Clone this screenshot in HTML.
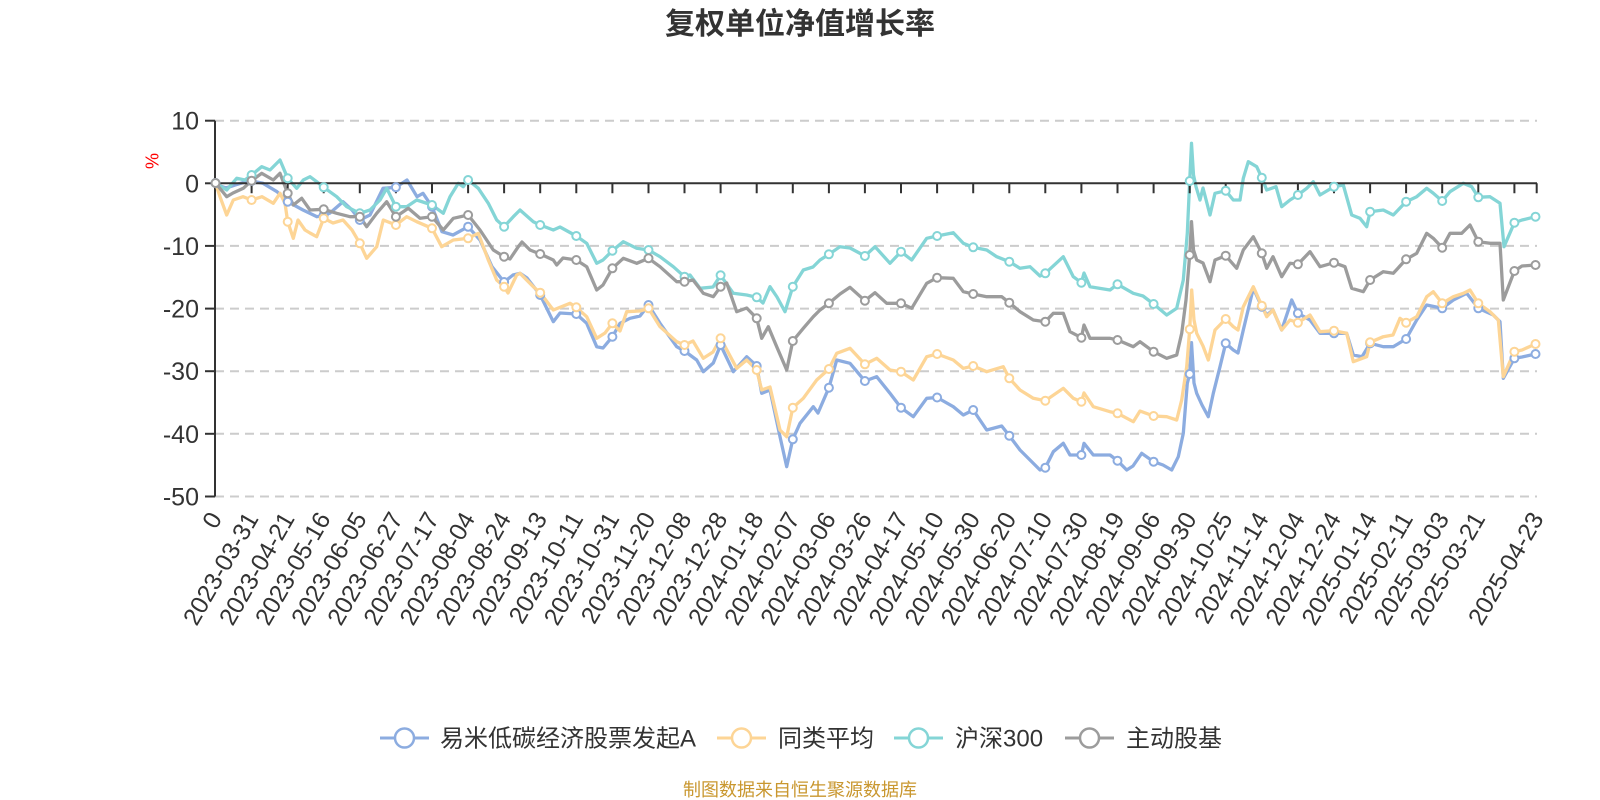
<!DOCTYPE html>
<html>
<head>
<meta charset="utf-8">
<style>
html,body{margin:0;padding:0;background:#fff;width:1600px;height:800px;overflow:hidden}
svg{display:block}
.ln{fill:none;stroke-width:3.3;stroke-linejoin:round;stroke-linecap:round}
.b{stroke:#8cace0}.o{stroke:#fdd596}.c{stroke:#84d5d6}.g{stroke:#9c9c9c}
circle.m{fill:#fff;stroke-width:2}
.grid{stroke:#cccccc;stroke-width:2;stroke-dasharray:9 6}
.yl{font-size:25px;fill:#333;text-anchor:end}
.xl{font-size:24.5px;fill:#333;text-anchor:end}
</style>
</head>
<body>
<svg width="1600" height="800" viewBox="0 0 1600 800" xmlns="http://www.w3.org/2000/svg" font-family="'Liberation Sans','Noto Sans CJK SC',sans-serif">
<rect width="1600" height="800" fill="#fff"/>
<text x="800" y="34" text-anchor="middle" font-size="30" font-weight="bold" fill="#333" font-family="'Liberation Sans','Noto Sans CJK SC',sans-serif">复权单位净值增长率</text>

<g>
<line class="grid" x1="215" y1="120.7" x2="1537" y2="120.7"/>
<line class="grid" x1="215" y1="245.9" x2="1537" y2="245.9"/>
<line class="grid" x1="215" y1="308.6" x2="1537" y2="308.6"/>
<line class="grid" x1="215" y1="371.2" x2="1537" y2="371.2"/>
<line class="grid" x1="215" y1="433.8" x2="1537" y2="433.8"/>
<line class="grid" x1="215" y1="496.5" x2="1537" y2="496.5"/>
</g>

<g stroke="#333" stroke-width="2">
<line x1="215" y1="120.7" x2="215" y2="496.5"/>
<line x1="205" y1="120.7" x2="215" y2="120.7"/>
<line x1="205" y1="183.3" x2="215" y2="183.3"/>
<line x1="205" y1="245.9" x2="215" y2="245.9"/>
<line x1="205" y1="308.6" x2="215" y2="308.6"/>
<line x1="205" y1="371.2" x2="215" y2="371.2"/>
<line x1="205" y1="433.8" x2="215" y2="433.8"/>
<line x1="205" y1="496.5" x2="215" y2="496.5"/>
</g>

<g>
<text class="yl" x="199" y="120.7" dy="0.36em">10</text>
<text class="yl" x="199" y="183.3" dy="0.36em">0</text>
<text class="yl" x="199" y="245.9" dy="0.36em">-10</text>
<text class="yl" x="199" y="308.6" dy="0.36em">-20</text>
<text class="yl" x="199" y="371.2" dy="0.36em">-30</text>
<text class="yl" x="199" y="433.8" dy="0.36em">-40</text>
<text class="yl" x="199" y="496.5" dy="0.36em">-50</text>
</g>
<text transform="translate(152,161) rotate(-90)" text-anchor="middle" dy="0.35em" font-size="18" fill="#ff0000">%</text>

<!-- series -->
<polyline class="ln b" points="215.5,183 220,186 226,188 235,185 245,182 251.6,181 263,183.3 277,191.7 287.7,201.7 303,210 317,216.7 323.7,215 330,213 343,201.7 352,210 359.8,220 370,215 383,188.3 395.9,187.3 407,180 417,196.7 423,193.3 432,206.7 442,231.7 453,235 468.1,226.7 480,240 492,266.7 504.1,282 513,275 520,273.3 527,278 540.2,295 553.3,321.7 560,313 576.3,314 586.7,323.3 596.7,346.7 603,348 612.4,336.7 620,323.3 630,318.3 640,316 648.5,305 660,323.3 676.7,346.7 684.5,351 696.7,360 703.3,371.7 713.3,363 720.6,345 733.3,371.7 746.7,356.7 756.7,366 761.7,393.3 770,390 780,436.7 786.7,466.7 792.8,439.3 800,423.3 813.3,406.7 818,413 828.9,387.7 836.7,360 850,363.3 864.9,381 876.7,376.7 890,393.3 901,407.7 913.3,416.7 926.7,398.3 937.1,397.5 953.3,406.7 963.3,415 973.2,410 986.7,430 1001.7,426 1009.3,435.7 1020,450 1030,460 1040,470 1045.3,467.7 1053.3,451.7 1063.3,443.3 1070,455 1081.4,455 1084,443.3 1093.3,455 1110,455 1117.5,460.7 1126.7,470 1133,466 1141.7,453.3 1153.6,461.7 1163,465 1171.7,470 1178.3,456.7 1183.3,433.3 1187.3,383.3 1189.7,374 1191.5,342.7 1194,383 1196.7,393.3 1202,405 1208.3,416.7 1213.3,393.3 1220,366.7 1225.7,343.3 1233.3,350 1238,353 1243.3,330 1253.3,288.3 1261.8,306.7 1266.7,315 1273,310 1281.7,330 1291.7,300 1297.9,313.3 1310,320 1320,333.3 1334,333.3 1346.7,333.3 1353.3,355 1362,356.7 1370.1,343.3 1383.3,346.7 1393.3,346.7 1406.1,339 1416.7,320 1426.7,305 1442.2,308.3 1453.3,300 1466.7,293.3 1478.3,308.3 1493.3,315 1500,321.7 1503.3,378.3 1514.4,358.3 1522,357 1535.5,354"/>
<polyline class="ln o" points="215.5,183 220,196.7 226.7,215 233.3,200 243,196.7 251.6,200 262,196.7 273.3,203.3 280,193.3 285,203.3 287.7,221.7 293.3,238.3 298,220 305,230 310,233 316.7,236.7 323.7,218.3 333,223 343,220 352,230 359.8,243.3 366.7,258.3 376.7,246.7 383.3,220 395.9,225 406.7,216.7 416.7,221.7 432,228.3 441.7,246.7 453.3,240 468.1,238.3 478.3,233.3 488.3,260 496.7,280 504.1,286.7 508,293 516.7,275 520,273.3 533.3,286.7 540.2,292.7 553.3,310 570,303.3 576.3,307.3 586.7,316.7 596.7,338.3 605,333 612.4,323.3 620,331 626.7,311.7 640,311 648.5,308.3 660,326.7 676.7,341.7 684.5,345 693,341 703.3,358.3 713,352 720.6,338.3 736.7,368.3 746.7,360 756.7,370 761.7,390 770,387 780,430 786.7,436.7 792.8,407.7 803.3,398.3 816.7,380 828.9,369 836.7,353.3 850,348.3 864.9,364.3 876.7,358.3 890,370 901,371.7 913.3,380 926.7,356.7 937.1,354 953.3,360 963.3,368.3 973.2,366 986.7,371.7 1003.3,366.7 1009.3,378.3 1020,390 1033.3,398.3 1045.3,400.7 1063.3,388.3 1073.3,398.3 1081.4,401.7 1084,393 1093.3,406.7 1110,411.7 1117.5,413.3 1133.3,421.7 1140,411 1153.6,416 1166.7,416.7 1176.7,420 1181.7,400 1186.7,366.7 1189.7,329.3 1191.7,290 1194,320 1196.7,333.3 1203,346 1208.3,360 1215,330 1225.7,319 1233.3,326.7 1238,330 1243.3,306.7 1253.3,286.7 1261.8,305.7 1266.7,316.7 1273,310 1281.7,330 1290,320 1297.9,322.7 1310,315 1320,331.7 1334,330.7 1346.7,333.3 1353.3,361.7 1366.7,356.7 1370.1,342.3 1383.3,336.7 1393,335 1400,318.3 1406.1,322.7 1416.7,316.7 1426.7,296.7 1433.3,291.7 1442.2,303.3 1453.3,296.7 1463.3,293.3 1470,290 1478.3,303.3 1490,311.7 1498.3,320 1503.3,376.7 1514.4,351.7 1522,350 1535.5,344"/>
<polyline class="ln c" points="215.5,183 226.7,190 236.7,178.3 245,180 251.6,175 261.7,166.7 270,170 280,160 287.7,178.3 296.7,188.3 303.3,180 310,176.7 316.7,181.7 323.7,187.3 336.7,196.7 346.7,206.7 359.8,213.3 370,210 380,200 386.7,188.3 395.9,206.7 406.7,206.7 416.7,200 432,205 443.3,213.3 450,196.7 458.3,183.3 463.3,186.7 468.1,180 478.3,188.3 488.3,203.3 496.7,220 504.1,226.7 513.3,216.7 520,210 533.3,221.7 540.2,225 553.3,230 560,227 576.3,236 586.7,243.3 596.7,263.3 603,260 612.4,250.7 623.3,241.7 636.7,248.3 648.5,250 660,256.7 673.3,266.7 684.5,276.7 690,275 700,288.3 713,287 720.6,275.3 733.3,293.3 746.7,295 756.7,297.3 763,303 770,286.7 777,297 785,311.7 788,302 792.8,286.7 803.3,270 813,267 820,260 828.9,254.3 840,246.7 850,248 864.9,256 875,246.7 890,263.3 901,251.7 911.7,260 926.7,238.3 937.1,236 953.3,232.7 963.3,243.3 973.2,247.3 986.7,250 996.7,256.7 1009.3,261.7 1020,268.3 1030,266.7 1040,276 1045.3,273.3 1063.3,256.7 1073.3,276.7 1081.4,282.7 1084,273 1090,286.7 1110,290 1117.5,284.3 1133.3,293.3 1143,296 1153.6,304 1166.7,315 1176.7,308.3 1183.3,280 1187.3,233.3 1189.7,181 1191.5,143.3 1193.5,175 1196,186.7 1200,200 1203,188 1210,215 1215,193.3 1225.7,190.7 1233.3,200 1240,200 1243.3,178.3 1248.3,161.7 1256.7,166.7 1261.8,177.7 1266.7,190 1276,186.7 1281.7,206.7 1290,200 1297.9,195 1306.7,188.3 1313.3,181.7 1320,195 1334,186.7 1343.3,185 1351.7,215 1360,218.3 1366.7,226.7 1370.1,211.7 1383.3,210 1393.3,215 1406.1,201.7 1416.7,196.7 1426.7,188.3 1433,193 1442.2,201 1450,191.7 1463.3,183.3 1471.7,186.7 1478.3,197.3 1490,196.7 1500,203.3 1504,246.7 1514.4,222.7 1522,220 1535.5,216.7"/>
<polyline class="ln g" points="215.5,183 226.7,196.7 233,193 243.3,188.3 251.6,180.7 261.7,173.3 273.3,180 280,173.3 287.7,193.3 293.3,205 301.7,198.3 310,210 323.7,209.3 336.7,213.3 350,216.7 359.8,216.7 366.7,226.7 376.7,213.3 386.7,201.7 395.9,216.7 408.3,208.3 420,218.3 432,216.7 443.3,230 453.3,218.3 468.1,215 480,230 493.3,250 504.1,256.7 510,259 518.3,246.7 522,242 530,250 540.2,254 553.3,260 556.7,265 563,258 576.3,260 586.7,266.7 596.7,290 603,285 612.4,268.3 623.3,258.3 636.7,263.3 648.5,258.3 660,266.7 676.7,281.7 684.5,281.7 693,280 703.3,293.3 713.3,296.7 720.6,286.7 726.7,283 736.7,311.7 746.7,308 756.7,318.3 761.7,338.3 768.3,326.7 776.7,346.7 786.7,370 792.8,341 803.3,328.3 813.3,316.7 820,310 828.9,303.3 840,294 850,287.3 864.9,300.7 875,292.7 886.7,303.3 901,303.3 911.7,308.3 926.7,283.3 937.1,277.7 953.3,278.3 963.3,291.7 973.2,294 986.7,296.7 1001.7,296.7 1009.3,302.7 1020,311.7 1033.3,320 1045.3,321.7 1053.3,313.3 1063.3,313.3 1070,331.7 1081.4,337.7 1084,325 1090,338.3 1110,338.3 1117.5,340 1133.3,346.7 1140,341.7 1153.6,351.7 1166.7,358.3 1176.7,355 1181.7,333.3 1186,300 1189.7,255 1191.5,221.7 1193.5,250 1196.7,260 1203,263 1210,281.7 1215,260 1225.7,255.7 1236.7,268.3 1243.3,250 1253.3,236.7 1261.8,253.3 1266.7,268.3 1273,256.7 1281.7,276.7 1290,263.3 1297.9,264.3 1310,251.7 1320,266.7 1334,262.7 1345,266.7 1351.7,288.3 1363.3,291.7 1370.1,280 1383.3,271.7 1393.3,273.3 1406.1,259.3 1416.7,253.3 1426.7,233.3 1433.3,238.3 1442.2,247.7 1450,233.3 1461.7,233.3 1470,225 1478.3,241.7 1490,243.3 1500,243.3 1503.3,300 1514.4,271 1522,266 1535.5,265"/>

<!-- x axis -->
<g stroke="#333" stroke-width="2">
<line x1="215" y1="183.3" x2="1537" y2="183.3"/>
<path d="M251.6 183.3v10M287.7 183.3v10M323.7 183.3v10M359.8 183.3v10M395.9 183.3v10M432 183.3v10M468.1 183.3v10M504.1 183.3v10M540.2 183.3v10M576.3 183.3v10M612.4 183.3v10M648.5 183.3v10M684.5 183.3v10M720.6 183.3v10M756.7 183.3v10M792.8 183.3v10M828.9 183.3v10M864.9 183.3v10M901 183.3v10M937.1 183.3v10M973.2 183.3v10M1009.3 183.3v10M1045.3 183.3v10M1081.4 183.3v10M1117.5 183.3v10M1153.6 183.3v10M1189.7 183.3v10M1225.7 183.3v10M1261.8 183.3v10M1297.9 183.3v10M1334 183.3v10M1370.1 183.3v10M1406.1 183.3v10M1442.2 183.3v10M1478.3 183.3v10M1514.4 183.3v10M1536.7 183.3v10"/>
</g>

<!-- markers -->
<g class="b">
<circle class="m" r="4" cx="215.5" cy="183"/><circle class="m" r="4" cx="251.6" cy="181"/><circle class="m" r="4" cx="287.7" cy="201.7"/><circle class="m" r="4" cx="323.7" cy="215"/><circle class="m" r="4" cx="359.8" cy="220"/><circle class="m" r="4" cx="395.9" cy="187.3"/><circle class="m" r="4" cx="432" cy="206.7"/><circle class="m" r="4" cx="468.1" cy="226.7"/><circle class="m" r="4" cx="504.1" cy="282"/><circle class="m" r="4" cx="540.2" cy="295"/><circle class="m" r="4" cx="576.3" cy="314"/><circle class="m" r="4" cx="612.4" cy="336.7"/><circle class="m" r="4" cx="648.5" cy="305"/><circle class="m" r="4" cx="684.5" cy="351"/><circle class="m" r="4" cx="720.6" cy="345"/><circle class="m" r="4" cx="756.7" cy="366"/><circle class="m" r="4" cx="792.8" cy="439.3"/><circle class="m" r="4" cx="828.9" cy="387.7"/><circle class="m" r="4" cx="864.9" cy="381"/><circle class="m" r="4" cx="901" cy="407.7"/><circle class="m" r="4" cx="937.1" cy="397.5"/><circle class="m" r="4" cx="973.2" cy="410"/><circle class="m" r="4" cx="1009.3" cy="435.7"/><circle class="m" r="4" cx="1045.3" cy="467.7"/><circle class="m" r="4" cx="1081.4" cy="455"/><circle class="m" r="4" cx="1117.5" cy="460.7"/><circle class="m" r="4" cx="1153.6" cy="461.7"/><circle class="m" r="4" cx="1189.7" cy="374"/><circle class="m" r="4" cx="1225.7" cy="343.3"/><circle class="m" r="4" cx="1261.8" cy="306.7"/><circle class="m" r="4" cx="1297.9" cy="313.3"/><circle class="m" r="4" cx="1334" cy="333.3"/><circle class="m" r="4" cx="1370.1" cy="343.3"/><circle class="m" r="4" cx="1406.1" cy="339"/><circle class="m" r="4" cx="1442.2" cy="308.3"/><circle class="m" r="4" cx="1478.3" cy="308.3"/><circle class="m" r="4" cx="1514.4" cy="358.3"/><circle class="m" r="4" cx="1535.5" cy="354"/>
</g>
<g class="o">
<circle class="m" r="4" cx="251.6" cy="200"/><circle class="m" r="4" cx="287.7" cy="221.7"/><circle class="m" r="4" cx="323.7" cy="218.3"/><circle class="m" r="4" cx="359.8" cy="243.3"/><circle class="m" r="4" cx="395.9" cy="225"/><circle class="m" r="4" cx="432" cy="228.3"/><circle class="m" r="4" cx="468.1" cy="238.3"/><circle class="m" r="4" cx="504.1" cy="286.7"/><circle class="m" r="4" cx="540.2" cy="292.7"/><circle class="m" r="4" cx="576.3" cy="307.3"/><circle class="m" r="4" cx="612.4" cy="323.3"/><circle class="m" r="4" cx="648.5" cy="308.3"/><circle class="m" r="4" cx="684.5" cy="345"/><circle class="m" r="4" cx="720.6" cy="338.3"/><circle class="m" r="4" cx="756.7" cy="370"/><circle class="m" r="4" cx="792.8" cy="407.7"/><circle class="m" r="4" cx="828.9" cy="369"/><circle class="m" r="4" cx="864.9" cy="364.3"/><circle class="m" r="4" cx="901" cy="371.7"/><circle class="m" r="4" cx="937.1" cy="354"/><circle class="m" r="4" cx="973.2" cy="366"/><circle class="m" r="4" cx="1009.3" cy="378.3"/><circle class="m" r="4" cx="1045.3" cy="400.7"/><circle class="m" r="4" cx="1081.4" cy="401.7"/><circle class="m" r="4" cx="1117.5" cy="413.3"/><circle class="m" r="4" cx="1153.6" cy="416"/><circle class="m" r="4" cx="1189.7" cy="329.3"/><circle class="m" r="4" cx="1225.7" cy="319"/><circle class="m" r="4" cx="1261.8" cy="305.7"/><circle class="m" r="4" cx="1297.9" cy="322.7"/><circle class="m" r="4" cx="1334" cy="330.7"/><circle class="m" r="4" cx="1370.1" cy="342.3"/><circle class="m" r="4" cx="1406.1" cy="322.7"/><circle class="m" r="4" cx="1442.2" cy="303.3"/><circle class="m" r="4" cx="1478.3" cy="303.3"/><circle class="m" r="4" cx="1514.4" cy="351.7"/><circle class="m" r="4" cx="1535.5" cy="344"/>
</g>
<g class="c">
<circle class="m" r="4" cx="251.6" cy="175"/><circle class="m" r="4" cx="287.7" cy="178.3"/><circle class="m" r="4" cx="323.7" cy="187.3"/><circle class="m" r="4" cx="359.8" cy="213.3"/><circle class="m" r="4" cx="395.9" cy="206.7"/><circle class="m" r="4" cx="432" cy="205"/><circle class="m" r="4" cx="468.1" cy="180"/><circle class="m" r="4" cx="504.1" cy="226.7"/><circle class="m" r="4" cx="540.2" cy="225"/><circle class="m" r="4" cx="576.3" cy="236"/><circle class="m" r="4" cx="612.4" cy="250.7"/><circle class="m" r="4" cx="648.5" cy="250"/><circle class="m" r="4" cx="684.5" cy="276.7"/><circle class="m" r="4" cx="720.6" cy="275.3"/><circle class="m" r="4" cx="756.7" cy="297.3"/><circle class="m" r="4" cx="792.8" cy="286.7"/><circle class="m" r="4" cx="828.9" cy="254.3"/><circle class="m" r="4" cx="864.9" cy="256"/><circle class="m" r="4" cx="901" cy="251.7"/><circle class="m" r="4" cx="937.1" cy="236"/><circle class="m" r="4" cx="973.2" cy="247.3"/><circle class="m" r="4" cx="1009.3" cy="261.7"/><circle class="m" r="4" cx="1045.3" cy="273.3"/><circle class="m" r="4" cx="1081.4" cy="282.7"/><circle class="m" r="4" cx="1117.5" cy="284.3"/><circle class="m" r="4" cx="1153.6" cy="304"/><circle class="m" r="4" cx="1189.7" cy="181"/><circle class="m" r="4" cx="1225.7" cy="190.7"/><circle class="m" r="4" cx="1261.8" cy="177.7"/><circle class="m" r="4" cx="1297.9" cy="195"/><circle class="m" r="4" cx="1334" cy="186.7"/><circle class="m" r="4" cx="1370.1" cy="211.7"/><circle class="m" r="4" cx="1406.1" cy="201.7"/><circle class="m" r="4" cx="1442.2" cy="201"/><circle class="m" r="4" cx="1478.3" cy="197.3"/><circle class="m" r="4" cx="1514.4" cy="222.7"/><circle class="m" r="4" cx="1535.5" cy="216.7"/>
</g>
<g class="g">
<circle class="m" r="4" cx="215.5" cy="183"/><circle class="m" r="4" cx="251.6" cy="180.7"/><circle class="m" r="4" cx="287.7" cy="193.3"/><circle class="m" r="4" cx="323.7" cy="209.3"/><circle class="m" r="4" cx="359.8" cy="216.7"/><circle class="m" r="4" cx="395.9" cy="216.7"/><circle class="m" r="4" cx="432" cy="216.7"/><circle class="m" r="4" cx="468.1" cy="215"/><circle class="m" r="4" cx="504.1" cy="256.7"/><circle class="m" r="4" cx="540.2" cy="254"/><circle class="m" r="4" cx="576.3" cy="260"/><circle class="m" r="4" cx="612.4" cy="268.3"/><circle class="m" r="4" cx="648.5" cy="258.3"/><circle class="m" r="4" cx="684.5" cy="281.7"/><circle class="m" r="4" cx="720.6" cy="286.7"/><circle class="m" r="4" cx="756.7" cy="318.3"/><circle class="m" r="4" cx="792.8" cy="341"/><circle class="m" r="4" cx="828.9" cy="303.3"/><circle class="m" r="4" cx="864.9" cy="300.7"/><circle class="m" r="4" cx="901" cy="303.3"/><circle class="m" r="4" cx="937.1" cy="277.7"/><circle class="m" r="4" cx="973.2" cy="294"/><circle class="m" r="4" cx="1009.3" cy="302.7"/><circle class="m" r="4" cx="1045.3" cy="321.7"/><circle class="m" r="4" cx="1081.4" cy="337.7"/><circle class="m" r="4" cx="1117.5" cy="340"/><circle class="m" r="4" cx="1153.6" cy="351.7"/><circle class="m" r="4" cx="1189.7" cy="255"/><circle class="m" r="4" cx="1225.7" cy="255.7"/><circle class="m" r="4" cx="1261.8" cy="253.3"/><circle class="m" r="4" cx="1297.9" cy="264.3"/><circle class="m" r="4" cx="1334" cy="262.7"/><circle class="m" r="4" cx="1370.1" cy="280"/><circle class="m" r="4" cx="1406.1" cy="259.3"/><circle class="m" r="4" cx="1442.2" cy="247.7"/><circle class="m" r="4" cx="1478.3" cy="241.7"/><circle class="m" r="4" cx="1514.4" cy="271"/><circle class="m" r="4" cx="1535.5" cy="265"/>
</g>

<!-- x labels -->
<g>
<text class="xl" transform="translate(215,514) rotate(-60)" dy="0.36em">0</text>
<text class="xl" transform="translate(251.6,514) rotate(-60)" dy="0.36em">2023-03-31</text>
<text class="xl" transform="translate(287.7,514) rotate(-60)" dy="0.36em">2023-04-21</text>
<text class="xl" transform="translate(323.7,514) rotate(-60)" dy="0.36em">2023-05-16</text>
<text class="xl" transform="translate(359.8,514) rotate(-60)" dy="0.36em">2023-06-05</text>
<text class="xl" transform="translate(395.9,514) rotate(-60)" dy="0.36em">2023-06-27</text>
<text class="xl" transform="translate(432,514) rotate(-60)" dy="0.36em">2023-07-17</text>
<text class="xl" transform="translate(468.1,514) rotate(-60)" dy="0.36em">2023-08-04</text>
<text class="xl" transform="translate(504.1,514) rotate(-60)" dy="0.36em">2023-08-24</text>
<text class="xl" transform="translate(540.2,514) rotate(-60)" dy="0.36em">2023-09-13</text>
<text class="xl" transform="translate(576.3,514) rotate(-60)" dy="0.36em">2023-10-11</text>
<text class="xl" transform="translate(612.4,514) rotate(-60)" dy="0.36em">2023-10-31</text>
<text class="xl" transform="translate(648.5,514) rotate(-60)" dy="0.36em">2023-11-20</text>
<text class="xl" transform="translate(684.5,514) rotate(-60)" dy="0.36em">2023-12-08</text>
<text class="xl" transform="translate(720.6,514) rotate(-60)" dy="0.36em">2023-12-28</text>
<text class="xl" transform="translate(756.7,514) rotate(-60)" dy="0.36em">2024-01-18</text>
<text class="xl" transform="translate(792.8,514) rotate(-60)" dy="0.36em">2024-02-07</text>
<text class="xl" transform="translate(828.9,514) rotate(-60)" dy="0.36em">2024-03-06</text>
<text class="xl" transform="translate(864.9,514) rotate(-60)" dy="0.36em">2024-03-26</text>
<text class="xl" transform="translate(901,514) rotate(-60)" dy="0.36em">2024-04-17</text>
<text class="xl" transform="translate(937.1,514) rotate(-60)" dy="0.36em">2024-05-10</text>
<text class="xl" transform="translate(973.2,514) rotate(-60)" dy="0.36em">2024-05-30</text>
<text class="xl" transform="translate(1009.3,514) rotate(-60)" dy="0.36em">2024-06-20</text>
<text class="xl" transform="translate(1045.3,514) rotate(-60)" dy="0.36em">2024-07-10</text>
<text class="xl" transform="translate(1081.4,514) rotate(-60)" dy="0.36em">2024-07-30</text>
<text class="xl" transform="translate(1117.5,514) rotate(-60)" dy="0.36em">2024-08-19</text>
<text class="xl" transform="translate(1153.6,514) rotate(-60)" dy="0.36em">2024-09-06</text>
<text class="xl" transform="translate(1189.7,514) rotate(-60)" dy="0.36em">2024-09-30</text>
<text class="xl" transform="translate(1225.7,514) rotate(-60)" dy="0.36em">2024-10-25</text>
<text class="xl" transform="translate(1261.8,514) rotate(-60)" dy="0.36em">2024-11-14</text>
<text class="xl" transform="translate(1297.9,514) rotate(-60)" dy="0.36em">2024-12-04</text>
<text class="xl" transform="translate(1334,514) rotate(-60)" dy="0.36em">2024-12-24</text>
<text class="xl" transform="translate(1370.1,514) rotate(-60)" dy="0.36em">2025-01-14</text>
<text class="xl" transform="translate(1406.1,514) rotate(-60)" dy="0.36em">2025-02-11</text>
<text class="xl" transform="translate(1442.2,514) rotate(-60)" dy="0.36em">2025-03-03</text>
<text class="xl" transform="translate(1478.3,514) rotate(-60)" dy="0.36em">2025-03-21</text>
<text class="xl" transform="translate(1536.7,514) rotate(-60)" dy="0.36em">2025-04-23</text>
</g>

<!-- legend -->
<g font-size="24" fill="#333">
<line x1="380" y1="738" x2="429" y2="738" stroke="#8cace0" stroke-width="3"/>
<circle cx="404.5" cy="738" r="9.5" fill="#fff" stroke="#8cace0" stroke-width="2.5"/>
<text x="440" y="746.5">易米低碳经济股票发起A</text>
<line x1="717" y1="738" x2="766" y2="738" stroke="#fdd596" stroke-width="3"/>
<circle cx="741.5" cy="738" r="9.5" fill="#fff" stroke="#fdd596" stroke-width="2.5"/>
<text x="778" y="746.5">同类平均</text>
<line x1="894" y1="738" x2="943" y2="738" stroke="#84d5d6" stroke-width="3"/>
<circle cx="918.5" cy="738" r="9.5" fill="#fff" stroke="#84d5d6" stroke-width="2.5"/>
<text x="955" y="746.5">沪深300</text>
<line x1="1065" y1="738" x2="1114" y2="738" stroke="#9c9c9c" stroke-width="3"/>
<circle cx="1089.5" cy="738" r="9.5" fill="#fff" stroke="#9c9c9c" stroke-width="2.5"/>
<text x="1126" y="746.5">主动股基</text>
</g>

<text x="800" y="796" text-anchor="middle" font-size="18" fill="#c9972f">制图数据来自恒生聚源数据库</text>
</svg>
</body>
</html>
